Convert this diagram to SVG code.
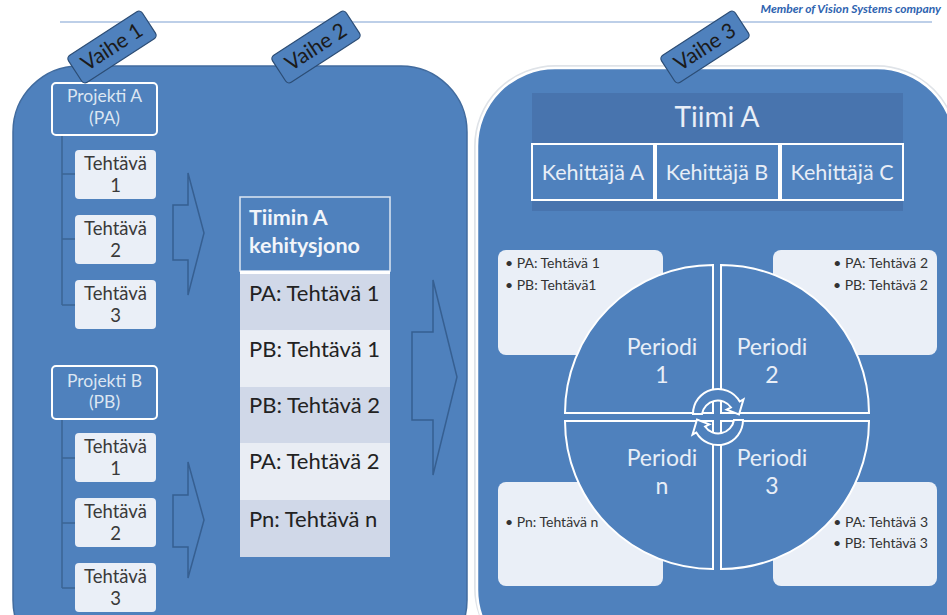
<svg xmlns="http://www.w3.org/2000/svg" width="947" height="615" viewBox="0 0 947 615">
  <style>
    text { font-family: Lato, "Open Sans", "Liberation Sans", sans-serif; }
    .panel { fill: #4f81bd; }
    .tag rect { fill: #4f81bd; stroke: #2c4d75; stroke-width: 1.2; }
    .tag text { fill: #1b1b1b; font-size: 21px; text-anchor: middle; }
    .proj rect { fill: #4f81bd; stroke: #ffffff; stroke-width: 2; }
    .proj text { fill: #dce6f2; font-size: 17.5px; text-anchor: middle; }
    .task rect { fill: #eaeff7; }
    .task text { fill: #3a3a3a; font-size: 18.5px; text-anchor: middle; }
    .tree { fill: none; stroke: #3b6494; stroke-width: 1.5; }
    .chev { fill: #4f81bd; stroke: #365f91; stroke-width: 1.5; }
    .row-a { fill: #d0d8e8; }
    .row-b { fill: #e9edf4; }
    .row text { fill: #222222; font-size: 22px; }
    .dev rect { fill: #4f81bd; stroke: #ffffff; stroke-width: 2; }
    .dev text { fill: #e8eef7; font-size: 21.5px; text-anchor: middle; }
    .note rect { fill: #eaeff7; }
    .note text { fill: #333333; font-size: 14px; }
    .quad path { fill: #4f81bd; stroke: #ffffff; stroke-width: 2; }
    .quad text { fill: #e8eef7; font-size: 23px; text-anchor: middle; }
    .cyc { fill: #4f81bd; stroke: #ffffff; stroke-width: 2; }
  </style>

  <!-- header rule and company line -->
  <line x1="60" y1="22" x2="932" y2="22" stroke="#a7bfe0" stroke-width="1.5"/>
  <text x="941" y="13" font-size="12" font-style="italic" font-weight="bold" fill="#2e63b0" text-anchor="end" font-family="'Liberation Sans', sans-serif">Member of Vision Systems company</text>

  <!-- left panel (phases 1 and 2) -->
  <g id="panel-left">
    <rect class="panel" x="13" y="66" width="454" height="600" rx="66" ry="66" stroke="#416b9e" stroke-width="1.5"/>
  </g>

  <!-- right panel (phase 3) -->
  <g id="panel-right">
    <rect x="475.5" y="66.5" width="481" height="601" rx="80" ry="80" fill="none" stroke="#dfe3e8" stroke-width="3"/>
    <rect class="panel" x="477" y="68" width="478" height="600" rx="78" ry="78" stroke="#ffffff" stroke-width="2.5"/>
  </g>

  <!-- connectors: project trees and flow arrows -->
  <g id="connectors">
    <path class="tree" d="M62 135 V305 M62 174 H75 M62 239 H75 M62 305 H75"/>
    <path class="tree" d="M62 419 V588 M62 458 H75 M62 523 H75 M62 588 H75"/>
    <path class="chev" d="M173 205 H188 V173 L204 233 L188 295 V260 H173 Z"/>
    <path class="chev" d="M173 495 H188 V462 L204 520 L188 578 V547 H173 Z"/>
    <path class="chev" d="M412 332 H433 V280 L457 377 L433 475 V420 H412 Z"/>
  </g>

  <!-- project A -->
  <g id="projekti-a" class="proj">
    <rect x="52" y="83" width="105" height="52" rx="4"/>
    <text x="104.5" y="102">Projekti A</text>
    <text x="104.5" y="124">(PA)</text>
  </g>
  <g id="pa-tehtava-1" class="task">
    <rect x="75" y="150" width="81" height="49" rx="4"/>
    <text x="115.5" y="170">Tehtävä</text><text x="115.5" y="192">1</text>
  </g>
  <g id="pa-tehtava-2" class="task">
    <rect x="75" y="215" width="81" height="49" rx="4"/>
    <text x="115.5" y="235">Tehtävä</text><text x="115.5" y="257">2</text>
  </g>
  <g id="pa-tehtava-3" class="task">
    <rect x="75" y="280" width="81" height="49" rx="4"/>
    <text x="115.5" y="300">Tehtävä</text><text x="115.5" y="322">3</text>
  </g>

  <!-- project B -->
  <g id="projekti-b" class="proj">
    <rect x="52" y="366" width="105" height="53" rx="4"/>
    <text x="104.5" y="387">Projekti B</text>
    <text x="104.5" y="408">(PB)</text>
  </g>
  <g id="pb-tehtava-1" class="task">
    <rect x="75" y="433" width="81" height="49" rx="4"/>
    <text x="115.5" y="453">Tehtävä</text><text x="115.5" y="475">1</text>
  </g>
  <g id="pb-tehtava-2" class="task">
    <rect x="75" y="498" width="81" height="49" rx="4"/>
    <text x="115.5" y="518">Tehtävä</text><text x="115.5" y="540">2</text>
  </g>
  <g id="pb-tehtava-3" class="task">
    <rect x="75" y="563" width="81" height="49" rx="4"/>
    <text x="115.5" y="583">Tehtävä</text><text x="115.5" y="605">3</text>
  </g>

  <!-- team backlog -->
  <g id="kehitysjono">
    <rect x="240" y="197" width="150" height="74" fill="#4f81bd" stroke="#dde6f2" stroke-width="1.5"/>
    <text x="249" y="225" font-size="21.5" font-weight="bold" fill="#f2f5fa">Tiimin A</text>
    <text x="249" y="253" font-size="21.5" font-weight="bold" fill="#f2f5fa">kehitysjono</text>
    <rect x="240" y="271" width="150" height="3" fill="#ffffff"/>
    <g class="row">
      <rect class="row-a" x="240" y="274" width="150" height="56"/>
      <text x="249" y="301">PA: Tehtävä 1</text>
      <rect class="row-b" x="240" y="330" width="150" height="57"/>
      <text x="249" y="357">PB: Tehtävä 1</text>
      <rect class="row-a" x="240" y="387" width="150" height="56"/>
      <text x="249" y="413">PB: Tehtävä 2</text>
      <rect class="row-b" x="240" y="443" width="150" height="57"/>
      <text x="249" y="469">PA: Tehtävä 2</text>
      <rect class="row-a" x="240" y="500" width="150" height="57"/>
      <text x="249" y="527">Pn: Tehtävä n</text>
    </g>
  </g>

  <!-- team A and developers -->
  <g id="tiimi-a">
    <rect x="532" y="93" width="371" height="118" fill="#4874ae"/>
    <text x="717" y="127" font-size="28" fill="#e8eef7" text-anchor="middle">Tiimi A</text>
  </g>
  <g id="kehittaja-a" class="dev">
    <rect x="532" y="144" width="122" height="56"/>
    <text x="593" y="180">Kehittäjä A</text>
  </g>
  <g id="kehittaja-b" class="dev">
    <rect x="656" y="144" width="123" height="56"/>
    <text x="717" y="180">Kehittäjä B</text>
  </g>
  <g id="kehittaja-c" class="dev">
    <rect x="781" y="144" width="122" height="56"/>
    <text x="842" y="180">Kehittäjä C</text>
  </g>

  <!-- period notes -->
  <g id="note-1" class="note">
    <rect x="498" y="250" width="165" height="105" rx="8"/>
    <text x="505" y="268">•  PA: Tehtävä 1</text>
    <text x="505" y="290">•  PB: Tehtävä1</text>
  </g>
  <g id="note-2" class="note">
    <rect x="773" y="250" width="164" height="105" rx="8"/>
    <text x="928" y="268" text-anchor="end">•  PA: Tehtävä 2</text>
    <text x="928" y="290" text-anchor="end">•  PB: Tehtävä 2</text>
  </g>
  <g id="note-n" class="note">
    <rect x="498" y="482" width="165" height="104" rx="8"/>
    <text x="505" y="527">•  Pn: Tehtävä n</text>
  </g>
  <g id="note-3" class="note">
    <rect x="773" y="482" width="164" height="104" rx="8"/>
    <text x="928" y="527" text-anchor="end">•  PA: Tehtävä 3</text>
    <text x="928" y="548" text-anchor="end">•  PB: Tehtävä 3</text>
  </g>

  <!-- period cycle quadrants -->
  <g id="periodi-1" class="quad">
    <path d="M713 413 H565 A148 148 0 0 1 713 265 Z"/>
    <text x="662" y="355">Periodi</text><text x="662" y="383">1</text>
  </g>
  <g id="periodi-2" class="quad">
    <path d="M721 413 V265 A148 148 0 0 1 869 413 Z"/>
    <text x="772" y="355">Periodi</text><text x="772" y="383">2</text>
  </g>
  <g id="periodi-3" class="quad">
    <path d="M721 421 H869 A148 148 0 0 1 721 569 Z"/>
    <text x="772" y="466">Periodi</text><text x="772" y="494">3</text>
  </g>
  <g id="periodi-n" class="quad">
    <path d="M713 421 V569 A148 148 0 0 1 565 421 Z"/>
    <text x="662" y="466">Periodi</text><text x="662" y="494">n</text>
  </g>

  <!-- cycle arrows at the centre -->
  <g id="cycle-arrows">
    <path class="cyc" d="M693 414 A25 25 0 0 1 739.7 401.5 L743.5 399.3 L739 414.5 L726.7 409.7 L731 407.5 A16 16 0 0 0 702 414 Z"/>
    <path class="cyc" d="M743 420 A25 25 0 0 1 696.3 432.5 L692.5 434.7 L697 419.5 L709.3 424.3 L705 426.5 A16 16 0 0 0 734 420 Z"/>
  </g>

  <!-- phase tags -->
  <g id="vaihe-1" class="tag" transform="translate(112 47) rotate(-33)">
    <rect x="-44" y="-16" width="88" height="32" rx="4"/>
    <text x="0" y="7">Vaihe 1</text>
  </g>
  <g id="vaihe-2" class="tag" transform="translate(316 47) rotate(-33)">
    <rect x="-44" y="-16" width="88" height="32" rx="4"/>
    <text x="0" y="7">Vaihe 2</text>
  </g>
  <g id="vaihe-3" class="tag" transform="translate(705 47) rotate(-33)">
    <rect x="-44" y="-16" width="88" height="32" rx="4"/>
    <text x="0" y="7">Vaihe 3</text>
  </g>
</svg>
